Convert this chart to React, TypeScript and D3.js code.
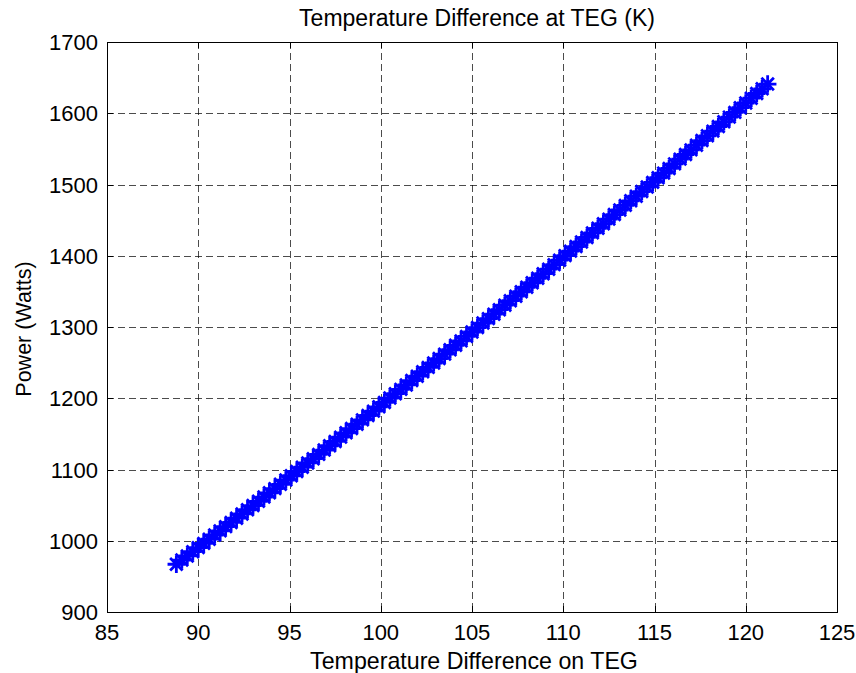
import React, { useEffect, useRef } from "react";
import * as d3 from "d3";

// Temperature difference on TEG (K)
const tempDiff = [
  88.8, 89.1, 89.4, 89.7, 90.0, 90.3, 90.6, 90.9, 91.2, 91.5, 91.8, 92.1, 92.4, 92.7, 93.0, 93.3,
  93.6, 93.9, 94.2, 94.5, 94.8, 95.1, 95.4, 95.7, 96.0, 96.3, 96.6, 96.9, 97.2, 97.5, 97.8, 98.1,
  98.4, 98.7, 99.0, 99.3, 99.6, 99.9, 100.2, 100.5, 100.8, 101.1, 101.4, 101.7, 102.0, 102.3, 102.6,
  102.9, 103.2, 103.5, 103.8, 104.1, 104.4, 104.7, 105.0, 105.3, 105.6, 105.9, 106.2, 106.5, 106.8,
  107.1, 107.4, 107.7, 108.0, 108.3, 108.6, 108.9, 109.2, 109.5, 109.8, 110.1, 110.4, 110.7, 111.0,
  111.3, 111.6, 111.9, 112.2, 112.5, 112.8, 113.1, 113.4, 113.7, 114.0, 114.3, 114.6, 114.9, 115.2,
  115.5, 115.8, 116.1, 116.4, 116.7, 117.0, 117.3, 117.6, 117.9, 118.2, 118.5, 118.8, 119.1, 119.4,
  119.7, 120.0, 120.3, 120.6, 120.9, 121.2,
];

// Power (Watts)
const power = [
  967.0, 972.9, 978.7, 984.6, 990.4, 996.3, 1002.2, 1008.1, 1013.9, 1019.8, 1025.7, 1031.7, 1037.6,
  1043.5, 1049.4, 1055.4, 1061.3, 1067.3, 1073.2, 1079.2, 1085.2, 1091.2, 1097.2, 1103.2, 1109.2,
  1115.2, 1121.2, 1127.3, 1133.3, 1139.4, 1145.4, 1151.5, 1157.5, 1163.6, 1169.7, 1175.8, 1181.9,
  1188.0, 1194.1, 1200.3, 1206.4, 1212.5, 1218.7, 1224.8, 1231.0, 1237.2, 1243.3, 1249.5, 1255.7,
  1261.9, 1268.1, 1274.3, 1280.5, 1286.8, 1293.0, 1299.2, 1305.5, 1311.8, 1318.0, 1324.3, 1330.6,
  1336.9, 1343.2, 1349.5, 1355.8, 1362.1, 1368.4, 1374.8, 1381.1, 1387.5, 1393.8, 1400.2, 1406.5,
  1412.9, 1419.3, 1425.7, 1432.1, 1438.5, 1444.9, 1451.4, 1457.8, 1464.2, 1470.7, 1477.1, 1483.6,
  1490.1, 1496.5, 1503.0, 1509.5, 1516.0, 1522.5, 1529.0, 1535.6, 1542.1, 1548.6, 1555.2, 1561.7,
  1568.3, 1574.9, 1581.4, 1588.0, 1594.6, 1601.2, 1607.8, 1614.4, 1621.1, 1627.7, 1634.3, 1641.0,
];

const xTicks = [85, 90, 95, 100, 105, 110, 115, 120, 125];
const yTicks = [900, 1000, 1100, 1200, 1300, 1400, 1500, 1600, 1700];

const title = "Temperature Difference at TEG (K)";
const xLabel = "Temperature Difference on TEG";
const yLabel = "Power (Watts)";

export default function App() {
  const svgRef = useRef<SVGSVGElement>(null);

  useEffect(() => {
    const width = 856;
    const height = 673;
    const m = { left: 107, right: 837, top: 42, bottom: 612 };
    const font = "Liberation Sans, Arial, sans-serif";

    const svg = d3.select(svgRef.current);
    svg.selectAll("*").remove();
    svg.attr("width", width).attr("height", height);

    svg.append("rect").attr("width", width).attr("height", height).attr("fill", "#fff");

    const x = d3.scaleLinear().domain([85, 125]).range([m.left, m.right]);
    const y = d3.scaleLinear().domain([900, 1700]).range([m.bottom, m.top]);

    // grid
    const grid = svg.append("g")
      .attr("stroke", "#000")
      .attr("stroke-width", 1)
      .attr("stroke-dasharray", "7,4")
      .attr("stroke-opacity", 0.7);
    xTicks.slice(1, -1).forEach(t => {
      grid.append("line")
        .attr("x1", Math.round(x(t)) + 0.5).attr("x2", Math.round(x(t)) + 0.5)
        .attr("y1", m.top).attr("y2", m.bottom);
    });
    yTicks.slice(1, -1).forEach(t => {
      grid.append("line")
        .attr("y1", Math.round(y(t)) + 0.5).attr("y2", Math.round(y(t)) + 0.5)
        .attr("x1", m.left).attr("x2", m.right);
    });

    // data markers (asterisks)
    const r = 8.8;
    const d = r * Math.SQRT1_2;
    const star = `M${-r},0L${r},0M0,${-r}L0,${r}M${-d},${-d}L${d},${d}M${-d},${d}L${d},${-d}`;
    svg.append("g")
      .selectAll("path")
      .data(tempDiff.map((t, i) => [t, power[i]]))
      .join("path")
      .attr("transform", p => `translate(${x(p[0])},${y(p[1])})`)
      .attr("d", star)
      .attr("fill", "none")
      .attr("stroke", "#0000ff")
      .attr("stroke-width", 2.8);

    // box
    svg.append("rect")
      .attr("x", m.left + 0.5).attr("y", m.top + 0.5)
      .attr("width", m.right - m.left).attr("height", m.bottom - m.top)
      .attr("fill", "none").attr("stroke", "#000").attr("stroke-width", 1);

    // ticks (inside)
    const tk = svg.append("g").attr("stroke", "#000").attr("stroke-width", 1);
    xTicks.forEach(t => {
      const px = Math.round(x(t)) + 0.5;
      tk.append("line").attr("x1", px).attr("x2", px).attr("y1", m.bottom).attr("y2", m.bottom - 6);
      tk.append("line").attr("x1", px).attr("x2", px).attr("y1", m.top).attr("y2", m.top + 6);
    });
    yTicks.forEach(t => {
      const py = Math.round(y(t)) + 0.5;
      tk.append("line").attr("y1", py).attr("y2", py).attr("x1", m.left).attr("x2", m.left + 6);
      tk.append("line").attr("y1", py).attr("y2", py).attr("x1", m.right).attr("x2", m.right - 6);
    });

    // tick labels
    svg.append("g")
      .selectAll("text")
      .data(xTicks)
      .join("text")
      .attr("x", t => x(t))
      .attr("y", 640)
      .attr("text-anchor", "middle")
      .attr("font-family", font)
      .attr("font-size", 22)
      .text(t => t);

    svg.append("g")
      .selectAll("text")
      .data(yTicks)
      .join("text")
      .attr("x", 98)
      .attr("y", t => y(t) + 8)
      .attr("text-anchor", "end")
      .attr("font-family", font)
      .attr("font-size", 22)
      .text(t => t);

    // titles
    svg.append("text")
      .attr("x", (m.left + m.right) / 2 + 5)
      .attr("y", 26)
      .attr("text-anchor", "middle")
      .attr("font-family", font)
      .attr("font-size", 23)
      .text(title);

    svg.append("text")
      .attr("x", (m.left + m.right) / 2 + 2)
      .attr("y", 669)
      .attr("text-anchor", "middle")
      .attr("font-family", font)
      .attr("font-size", 23.2)
      .text(xLabel);

    svg.append("text")
      .attr("transform", `translate(31,${(m.top + m.bottom) / 2 + 2}) rotate(-90)`)
      .attr("text-anchor", "middle")
      .attr("font-family", font)
      .attr("font-size", 21.5)
      .text(yLabel);
  }, []);

  return <svg ref={svgRef} style={{ position: "absolute", left: 0, top: 0 }} />;
}
